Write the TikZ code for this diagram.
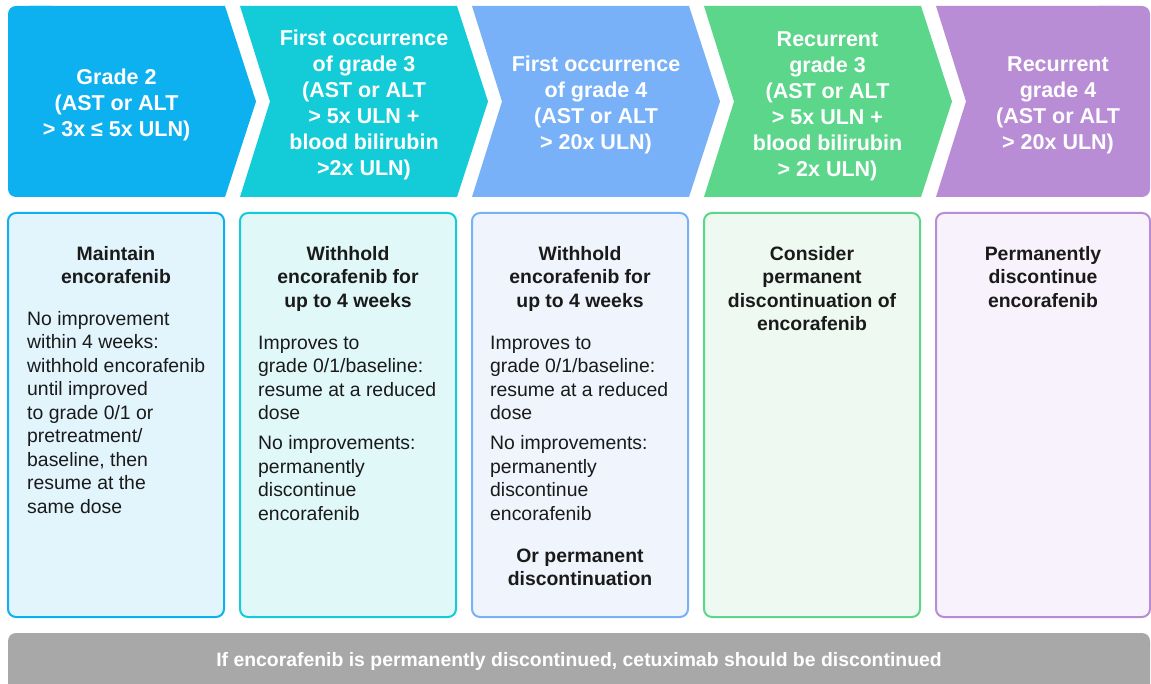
\documentclass[tikz,border=0pt]{standalone}
\usepackage{fontspec}
\setmainfont{Liberation Sans}
\definecolor{cA}{HTML}{0EB1EF}
\definecolor{cB}{HTML}{14CCD7}
\definecolor{cC}{HTML}{78B1F7}
\definecolor{cD}{HTML}{5CD68B}
\definecolor{cE}{HTML}{B98CD6}
\definecolor{fA}{HTML}{E2F5FD}
\definecolor{fB}{HTML}{E1F8F9}
\definecolor{fC}{HTML}{EFF4FD}
\definecolor{fD}{HTML}{EEF9F2}
\definecolor{fE}{HTML}{F7F2FB}
\definecolor{barc}{HTML}{A8A8A8}
\definecolor{txt}{HTML}{1A1A1A}
\begin{document}
\begin{tikzpicture}[x=1pt,y=-1pt,
  hdr/.style={font=\bfseries\fontsize{21.5}{26}\selectfont, text=white, align=center, inner sep=0pt},
  bhead/.style={font=\bfseries\fontsize{19.4}{23.5}\selectfont, text=txt, align=center, anchor=north, inner sep=0pt},
  btext/.style={font=\fontsize{19.4}{23.5}\selectfont, text=txt, align=left, anchor=north west, inner sep=0pt},
  panel/.style={rounded corners=8pt, line width=2pt}]
\clip (0,0) rectangle (1151,684);
\fill[white] (0,0) rectangle (1151,684);
% chevrons
\fill[cA, rounded corners=8pt] (8,6) rectangle (60,197);
\fill[cA] (30,6) -- (225,6) -- (256,101.5) -- (225,197) -- (30,197) -- cycle;
\foreach \L/\c in {240/cB, 472/cC, 704/cD}{
  \fill[\c] (\L,6) -- ({\L+217},6) -- ({\L+248},101.5) -- ({\L+217},197) -- (\L,197) -- ({\L+30},101.5) -- cycle;
}
\fill[cE, rounded corners=8pt] (1090,6) rectangle (1150,197);
\fill[cE] (936,6) -- (1120,6) -- (1120,197) -- (936,197) -- (966,101.5) -- cycle;
% header texts
\node[hdr] (h1) at (116.5,105) {Grade 2\\(AST or ALT\\> 3x ≤ 5x ULN)};
\node[hdr] (h2) at (364,105) {First occurrence\\of grade 3\\(AST or ALT\\> 5x ULN +\\blood bilirubin\\>2x ULN)};
\node[hdr] (h3) at (596,105) {First occurrence\\of grade 4\\(AST or ALT\\> 20x ULN)};
\node[hdr] (h4) at (827.5,106) {Recurrent\\grade 3\\(AST or ALT\\> 5x ULN +\\blood bilirubin\\> 2x ULN)};
\node[hdr] (h5) at (1058,105) {Recurrent\\grade 4\\(AST or ALT\\> 20x ULN)};
% panels
\draw[panel, draw=cA, fill=fA] (8,213) rectangle (224,617);
\draw[panel, draw=cB, fill=fB] (240,213) rectangle (456,617);
\draw[panel, draw=cC, fill=fC] (472,213) rectangle (688,617);
\draw[panel, draw=cD, fill=fD] (704,213) rectangle (920,617);
\draw[panel, draw=cE, fill=fE] (936,213) rectangle (1150,617);
% panel texts
\node[bhead] (t1) at (116,243.5) {\strut Maintain\\encorafenib};
\node[btext] (b1) at (27,308.5) {\strut No improvement\\within 4 weeks:\\withhold encorafenib\\until improved\\to grade 0/1 or\\pretreatment/\\baseline, then\\resume at the\\same dose};
\node[bhead] (t2) at (348,243.5) {\strut Withhold\\encorafenib for\\up to 4 weeks};
\node[btext] (b2) at (258,332.5) {\strut Improves to\\grade 0/1/baseline:\\resume at a reduced\\dose\\[6.5pt]No improvements:\\permanently\\discontinue\\encorafenib};
\node[bhead] (t3) at (580,243.5) {\strut Withhold\\encorafenib for\\up to 4 weeks};
\node[btext] (b3) at (490,332.5) {\strut Improves to\\grade 0/1/baseline:\\resume at a reduced\\dose\\[6.5pt]No improvements:\\permanently\\discontinue\\encorafenib};
\node[bhead] (o3) at (580,545.5) {\strut Or permanent\\discontinuation};
\node[bhead] (t4) at (812,243.5) {\strut Consider\\permanent\\discontinuation of\\encorafenib};
\node[bhead] (t5) at (1043,243.5) {\strut Permanently\\discontinue\\encorafenib};
% bottom bar
\fill[barc, rounded corners=8pt] (8,633) rectangle (1150,710);
\node[font=\bfseries\fontsize{19.4}{23.5}\selectfont, text=white, inner sep=0pt] (bar) at (579,661.5) {If encorafenib is permanently discontinued, cetuximab should be discontinued};
\end{tikzpicture}
\end{document}
